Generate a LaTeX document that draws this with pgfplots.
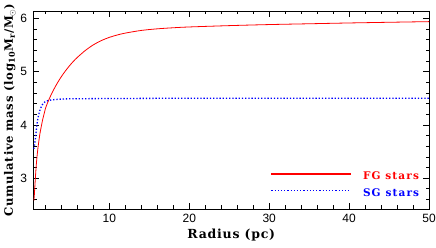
\documentclass[border=0pt]{standalone}
\usepackage{fontspec}
\setmainfont{Liberation Sans}
\newfontfamily\labfont[LetterSpace=6]{DejaVu Serif}
\newfontfamily\legfont[LetterSpace=11]{DejaVu Serif}
\usepackage{pgfplots}
\pgfplotsset{compat=1.18}
\begin{document}
\begin{tikzpicture}
\useasboundingbox (-33.5pt,-39pt) rectangle (402.5pt,209pt);
\begin{axis}[
  at={(0,0)}, anchor=south west,
  scale only axis, width=395.5pt, height=198pt,
  xmin=0.5, xmax=50, ymin=2.42, ymax=6.14,
  xtick={10,20,30,40,50},
  minor xtick={2,4,6,8,12,14,16,18,22,24,26,28,32,34,36,38,42,44,46,48},
  ytick={3,4,5,6},
  minor ytick={2.6,2.8,3.2,3.4,3.6,3.8,4.2,4.4,4.6,4.8,5.2,5.4,5.6,5.8},
  tick align=inside,
  major tick length=6pt, minor tick length=3.5pt,
  every tick/.style={black, line width=0.6pt},
  axis line style={line width=0.8pt},
  /pgf/number format/assume math mode=true,
  ticklabel style={font=\fontsize{12}{14}\selectfont},
  yticklabel style={xshift=-3pt},
  xticklabel style={yshift=-2pt},
  xlabel={\labfont\bfseries\fontsize{12.5}{14}\selectfont Radius (pc)},
  xlabel style={at={(axis description cs:0.5,0)}, anchor=base, yshift=-30pt},
  ylabel={\labfont\bfseries\fontsize{11.6}{13}\selectfont Cumulative mass (log\textsubscript{10}M\textsubscript{r}/M\textsubscript{$\odot$})},
  ylabel style={at={([xshift=-20.5pt]axis description cs:0,0.5)}, anchor=base},
  legend style={draw=none, fill=none, inner sep=0pt, outer sep=0pt,
    at={(rel axis cs:0,0)}, anchor=south west, xshift=237.2pt, yshift=9.3pt,
    row sep=5.6pt, column sep=0pt,
    nodes={inner sep=1pt, text height=7.4pt, text depth=2pt},
    /tikz/every odd column/.append style={column sep=10.7pt}},
  legend cell align=left,
]
\addplot[red, line width=0.8pt, smooth, forget plot] coordinates {
(0.55,2.58) (0.6,2.67) (0.7,2.92) (0.8,3.15) (0.9,3.34) (1.0,3.49)
(1.12,3.64) (1.3,3.83) (1.5,3.99) (1.62,4.08) (2.0,4.31) (2.29,4.425)
(2.5,4.50) (3.0,4.655) (3.5,4.79) (4.0,4.91) (4.5,5.015) (5.0,5.11)
(5.5,5.195) (6.0,5.27) (7.0,5.40) (8.0,5.505) (9.0,5.585) (10.0,5.645)
(11,5.69) (12,5.725) (14,5.775) (16,5.805) (18,5.825) (20,5.84)
(25,5.865) (30,5.885) (35,5.90) (40,5.915) (45,5.928) (50,5.94)
};
\addplot[blue, line width=1.3pt, dash pattern=on 1.3pt off 1.9pt, smooth, forget plot] coordinates {
(0.55,3.55) (0.6,3.60) (0.7,3.70) (0.8,3.82) (0.92,4.00) (1.05,4.12)
(1.25,4.25) (1.5,4.35) (1.75,4.41) (2.0,4.44) (2.4,4.46) (2.8,4.47)
(3.5,4.48) (5,4.49) (10,4.495) (20,4.50) (50,4.50)
};
\addlegendimage{legend image code/.code={\fill[red] (0pt,3.2pt) rectangle (79.3pt,3.85pt);}}
\addlegendentry{\legfont\bfseries\fontsize{10.5}{12}\selectfont\textcolor{red}{FG stars}}
\addlegendimage{legend image code/.code={\draw[blue, draw=blue, line width=1.3pt, dash pattern=on 1.3pt off 1.9pt] (0pt,3.5pt) -- (79.3pt,3.5pt);}}
\addlegendentry{\legfont\bfseries\fontsize{10.5}{12}\selectfont\textcolor{blue}{SG stars}}
\end{axis}
\end{tikzpicture}
\end{document}
